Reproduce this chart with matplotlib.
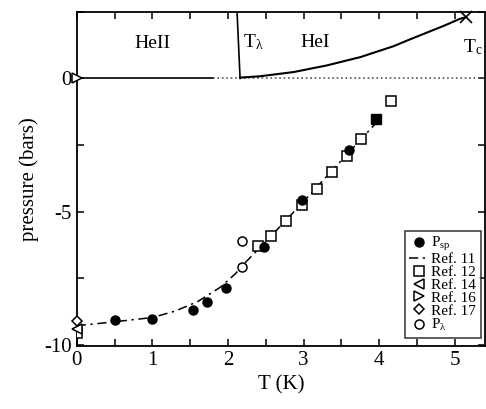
import numpy as np
import matplotlib.pyplot as plt
from matplotlib.ticker import MultipleLocator

plt.rcParams['font.family'] = ['Liberation Serif', 'DejaVu Serif']
plt.rcParams['mathtext.fontset'] = 'custom'
plt.rcParams['mathtext.rm'] = 'Liberation Serif'
plt.rcParams['mathtext.it'] = 'Liberation Serif'
plt.rcParams['axes.unicode_minus'] = False

# P_sp (spinodal pressure), filled circles
T_sp = [0.5, 1.0, 1.54, 1.72, 1.98, 2.48, 2.98, 3.6]
P_sp = [-9.06, -9.02, -8.68, -8.38, -7.86, -6.35, -4.55, -2.7]
T_sp_sq = [3.96]
P_sp_sq = [-1.54]

# Ref. 11 curve
T_r11 = [0.0, 0.5, 1.0, 1.3, 1.6, 1.9, 2.1, 2.2, 2.4, 2.7, 3.0, 3.5, 4.0]
P_r11 = [-9.29, -9.14, -8.98, -8.74, -8.38, -7.84, -7.33, -7.0, -6.42, -5.53, -4.62, -3.08, -1.55]

# Ref. 12, open squares
T_r12 = [0.0, 2.4, 2.57, 2.77, 2.98, 3.18, 3.38, 3.57, 3.76, 4.16]
P_r12 = [-9.55, -6.3, -5.9, -5.34, -4.74, -4.14, -3.53, -2.9, -2.29, -0.86]

T_r14, P_r14 = [0.0], [-9.4]
T_r16, P_r16 = [0.0], [0.0]
T_r17, P_r17 = [0.0], [-9.1]

# P_lambda, open circles
T_lam = [2.19, 2.19]
P_lam = [-6.09, -7.07]

# lambda line and saturated vapour pressure curve
T_lline = [2.16, 2.12]
P_lline = [0.0, 2.5]
T_svp = [2.16, 2.42, 2.87, 3.31, 3.75, 4.19, 4.41, 4.63, 4.85, 5.07, 5.15]
P_svp = [0.03, 0.08, 0.24, 0.49, 0.80, 1.21, 1.47, 1.72, 1.97, 2.24, 2.30]
T_c, P_c = 5.15, 2.30

fig = plt.figure(figsize=(4.86, 4.09), dpi=100)
ax = fig.add_axes([0.158, 0.154, 0.84, 0.817])

ax.plot([0, 1.8], [0, 0], color='black', lw=1.2, zorder=2)
ax.plot([1.8, 5.4], [0, 0], color='#555555', lw=1.2, ls=':', zorder=2)
ax.plot(T_lline, P_lline, color='black', lw=1.2)
ax.plot(T_svp, P_svp, color='black', lw=1.5)
ax.plot([T_c], [P_c], marker='x', color='black', ms=9, mew=1.2, clip_on=False)

ms = 6.5
ax.plot(T_sp, P_sp, 'o', color='black', ms=ms, label=r'P$_{\mathrm{sp}}$', zorder=4)
ax.plot(T_sp_sq, P_sp_sq, 's', color='black', ms=ms, zorder=4)
ax.plot(T_r11, P_r11, color='black', lw=1.1, ls=(0, (6, 3, 1.5, 3)), label='Ref. 11')
ax.plot(T_r12, P_r12, 's', mfc='white', mec='black', mew=1.1, ms=ms, label='Ref. 12', zorder=3)
ax.plot(T_r14, P_r14, '<', mfc='white', mec='black', mew=1.1, ms=ms, label='Ref. 14', clip_on=False, zorder=5)
ax.plot(T_r16, P_r16, '>', mfc='white', mec='black', mew=1.1, ms=ms, label='Ref. 16', clip_on=False, zorder=5)
ax.plot(T_r17, P_r17, 'D', mfc='white', mec='black', mew=1.1, ms=5.5, label='Ref. 17', clip_on=False, zorder=5)
ax.plot(T_lam, P_lam, 'o', mfc='white', mec='black', mew=1.1, ms=ms, label=r'P$_{\mathrm{λ}}$', zorder=4)

ax.text(1.0, 1.3, 'HeII', fontsize=14, ha='center', va='center')
ax.text(2.33, 1.35, r'T$_{\mathrm{λ}}$', fontsize=14, ha='center', va='center')
ax.text(3.15, 1.35, 'HeI', fontsize=14, ha='center', va='center')
ax.text(5.24, 1.17, r'T$_{\mathrm{c}}$', fontsize=14, ha='center', va='center')

ax.set_xlim(0, 5.4)
ax.set_ylim(-10.05, 2.5)
ax.set_xticks([0, 1, 2, 3, 4, 5])
ax.set_yticks([-10, -5, 0])
ax.xaxis.set_minor_locator(MultipleLocator(0.5))
ax.yaxis.set_minor_locator(MultipleLocator(2.5))
ax.tick_params(which='both', direction='in', top=True, right=True, labelsize=15, length=5, width=1.1)
ax.set_xlabel('T (K)', fontsize=15)
ax.set_ylabel('pressure (bars)', fontsize=15)
for s in ax.spines.values():
    s.set_linewidth(1.3)

leg = ax.legend(loc='lower right', bbox_to_anchor=(0.99, 0.025), fontsize=11, frameon=True,
                fancybox=False, edgecolor='black', handlelength=1.2, handletextpad=0.25,
                labelspacing=-0.05, borderpad=0.3, borderaxespad=0.0, markerscale=1.0)
leg.get_frame().set_linewidth(1.1)

fig.savefig('out.png', dpi=100)
